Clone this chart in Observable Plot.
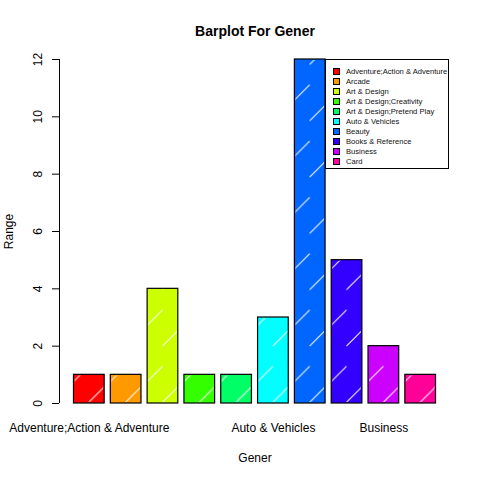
<!DOCTYPE html>
<html>
<head>
<meta charset="utf-8">
<script src="https://cdn.jsdelivr.net/npm/d3@7"></script>
<script src="https://cdn.jsdelivr.net/npm/@observablehq/plot@0.6"></script>
<style>
  html, body { margin: 0; padding: 0; background: white; }
  #wrap { position: relative; width: 480px; height: 480px; font-family: "Liberation Sans", Arial, sans-serif; }
  #legend { position: absolute; left: 325px; top: 59px; width: 122px; height: 108px; border: 1px solid black; background: white; box-sizing: content-box; }
  .row { position: absolute; left: 7px; height: 10px; display: flex; align-items: center; font-size: 7.6px; color: #111; white-space: nowrap; }
  .sw { width: 5px; height: 5px; border: 1px solid black; margin-right: 6px; }
</style>
</head>
<body>
<div id="wrap"></div>
<script>
const categories = ["Adventure;Action & Adventure", "Arcade", "Art & Design", "Art & Design;Creativity",
  "Art & Design;Pretend Play", "Auto & Vehicles", "Beauty", "Books & Reference", "Business", "Card"];
const values = [1, 1, 4, 1, 1, 3, 12, 5, 2, 1];
const colors = ["#FF0000", "#FF9900", "#CCFF00", "#33FF00", "#00FF66", "#00FFFF", "#0066FF", "#3300FF", "#CC00FF", "#FF0099"];
const yTicks = [0, 2, 4, 6, 8, 10, 12];
const shownLabels = [0, 5, 8]; // indices of category labels drawn under the bars
const title = "Barplot For Gener";
const xLabel = "Gener";
const yLabel = "Range";

const barWidth = 1, space = 0.2;
const data = categories.map((c, i) => ({
  cat: c, value: values[i], color: colors[i],
  x1: i * (barWidth + space) + space,
  x2: i * (barWidth + space) + space + barWidth
}));
const xmin = d3.min(data, d => d.x1), xmax = d3.max(data, d => d.x2);
const ext = (xmax - xmin) * 0.04;
const xDomain = [xmin - ext, xmax + ext];

const font = "Liberation Sans, Arial, sans-serif";
const chart = Plot.plot({
  width: 480, height: 480,
  marginLeft: 59, marginRight: 30, marginTop: 59, marginBottom: 77,
  x: { type: "linear", domain: xDomain, axis: null },
  y: { domain: [0, 12], axis: null },
  color: { type: "identity" },
  style: { fontFamily: font, background: "white", color: "black", overflow: "visible" },
  marks: [
    Plot.rectY(data, { x1: "x1", x2: "x2", y1: 0, y2: "value", fill: "color", stroke: "black", strokeWidth: 1.2 }),
    Plot.rectY(data, { x1: "x1", x2: "x2", y1: 0, y2: "value", fill: "none", stroke: "none" }),
    Plot.ruleX([xDomain[0]], { y1: 0, y2: 12, stroke: "black", strokeWidth: 1 }),
    Plot.axisY({ ticks: yTicks, tickSize: 7, tickFormat: () => "", label: null, strokeWidth: 1 }),
    Plot.text(yTicks, { x: xDomain[0], y: d => d, dx: -21, rotate: -90, text: d => String(d), fontSize: 12, fill: "black" }),
    Plot.text(shownLabels, { x: i => (data[i].x1 + data[i].x2) / 2, y: 0, dy: 25, text: i => categories[i], fontSize: 12, fill: "black" }),
    Plot.text([title], { frameAnchor: "top", dy: -28, lineAnchor: "middle", fontWeight: "bold", fontSize: 14, fill: "black" }),
    Plot.text([xLabel], { frameAnchor: "bottom", dy: 55, lineAnchor: "middle", fontSize: 12, fill: "black" }),
    Plot.text([yLabel], { frameAnchor: "left", dx: -50, rotate: -90, textAnchor: "middle", lineAnchor: "middle", fontSize: 12, fill: "black" })
  ]
});

const wrap = document.getElementById("wrap");
wrap.appendChild(chart);

// hatch pattern (white diagonal dashes), one pattern anchored at each bar
const ns = "http://www.w3.org/2000/svg";
const svg = chart.tagName.toLowerCase() === "svg" ? chart : chart.querySelector("svg");
const defs = document.createElementNS(ns, "defs");
svg.insertBefore(defs, svg.firstChild);
const rectGroups = Array.from(svg.querySelectorAll("g")).filter(g => {
  const kids = Array.from(g.children);
  return kids.length === categories.length && kids.every(k => k.tagName.toLowerCase() === "rect");
});
const hatchGroup = rectGroups[rectGroups.length - 1];
Array.from(hatchGroup.children).forEach((r, i) => {
  const x = +r.getAttribute("x"), y = +r.getAttribute("y");
  const w = +r.getAttribute("width"), h = +r.getAttribute("height");
  const p = document.createElementNS(ns, "pattern");
  const ph = 56.3;
  p.setAttribute("id", "hatch" + i);
  p.setAttribute("patternUnits", "userSpaceOnUse");
  p.setAttribute("x", x);
  p.setAttribute("y", y + h + 15);
  p.setAttribute("width", w);
  p.setAttribute("height", ph);
  const half = w / 2;
  const segs = [[0, 20, half, 20 - half], [half, 40.6, w, 40.6 - half]];
  segs.forEach(s => {
    const l = document.createElementNS(ns, "line");
    l.setAttribute("x1", s[0]); l.setAttribute("y1", s[1]);
    l.setAttribute("x2", s[2]); l.setAttribute("y2", s[3]);
    l.setAttribute("stroke", "white");
    l.setAttribute("stroke-width", "1");
    p.appendChild(l);
  });
  defs.appendChild(p);
  r.setAttribute("fill", "url(#hatch" + i + ")");
  r.setAttribute("x", x + 1); r.setAttribute("width", Math.max(0, w - 2));
  r.setAttribute("y", y + 1); r.setAttribute("height", Math.max(0, h - 2));
});

// legend
const legend = document.createElement("div");
legend.id = "legend";
categories.forEach((c, i) => {
  const row = document.createElement("div");
  row.className = "row";
  row.style.top = (6 + i * 10.08) + "px";
  const sw = document.createElement("div");
  sw.className = "sw";
  sw.style.background = colors[i];
  const t = document.createElement("span");
  t.textContent = c;
  row.appendChild(sw); row.appendChild(t);
  legend.appendChild(row);
});
wrap.appendChild(legend);
</script>
</body>
</html>
